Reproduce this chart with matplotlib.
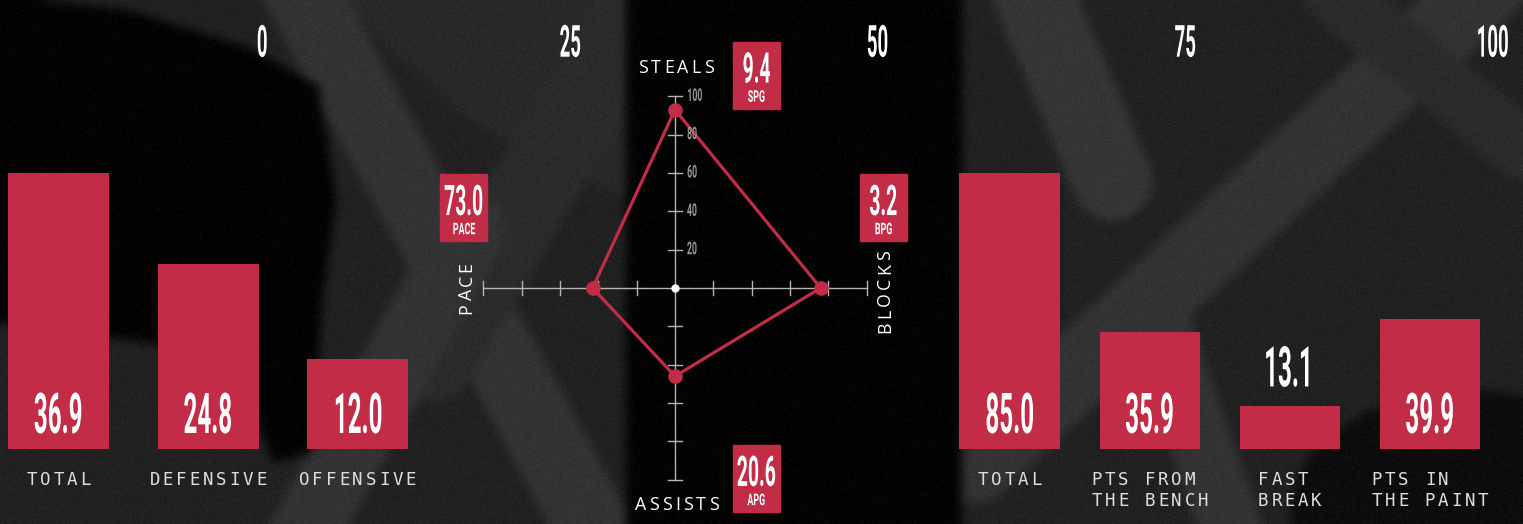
import numpy as np
import matplotlib
matplotlib.use("Agg")
import matplotlib.pyplot as plt
from matplotlib import transforms
from matplotlib.patches import Rectangle
from matplotlib.path import Path
from matplotlib.patheffects import AbstractPathEffect
from matplotlib.font_manager import FontProperties
from matplotlib.textpath import TextToPath

# ---------------------------------------------------------------- data
rebound_labels = ["TOTAL", "DEFENSIVE", "OFFENSIVE"]
rebound_values = [36.9, 24.8, 12.0]

scoring_labels = ["TOTAL", "PTS FROM\nTHE BENCH", "FAST\nBREAK", "PTS IN\nTHE PAINT"]
scoring_values = [85.0, 35.9, 13.1, 39.9]

radar_axes = ["STEALS", "BLOCKS", "ASSISTS", "PACE"]
radar_scores = [93, 76, 46, 43]          # 0-100 rating plotted on the radar
radar_stats = ["9.4", "3.2", "20.6", "73.0"]
radar_units = ["SPG", "BPG", "APG", "PACE"]
radar_ticks = [20, 40, 60, 80, 100]

scale_ticks = [0, 25, 50, 75, 100]

# ---------------------------------------------------------------- style
W, H, DPI = 1523, 524, 100
RED = "#C22C47"
AXIS_GREY = "#b4b4b4"
LABEL_GREY = "#dedede"

NUM = FontProperties(family=["Roboto", "DejaVu Sans"], weight="bold")
MONO = FontProperties(family=["DejaVu Sans Mono"], size=12.6)
SANS = FontProperties(family=["Open Sans", "DejaVu Sans"], size=12.8)

fig = plt.figure(figsize=(W / DPI, H / DPI), dpi=DPI)
fig.patch.set_facecolor("#111111")


def fx(px):
    return px / W


def fy(py):
    return 1 - py / H


class Condense(AbstractPathEffect):
    """Squeeze glyph outlines horizontally to get a compressed display face."""

    def __init__(self, sx, anchor="center"):
        super().__init__()
        self.sx = sx
        self.anchor = anchor

    def draw_path(self, renderer, gc, tpath, affine, rgbFace=None):
        verts = tpath.vertices
        if tpath.codes is not None:
            verts = verts[tpath.codes != Path.CLOSEPOLY]
        if len(verts) == 0:
            return
        v = affine.transform(verts)
        lo, hi = v[:, 0].min(), v[:, 0].max()
        x0 = {"left": lo, "right": hi}.get(self.anchor, 0.5 * (lo + hi))
        squeeze = transforms.Affine2D().translate(-x0, 0).scale(self.sx, 1).translate(x0, 0)
        renderer.draw_path(gc, tpath, affine + squeeze, rgbFace)


_ttp = TextToPath()


def ink_width_px(s, fp):
    w, _, _ = _ttp.get_text_width_height_descent(s, fp, ismath=False)
    return w * DPI / 72


def cond_text(ax, x, y, s, size, sx, transform=None, ha="center", va="baseline",
              color="white", anchor="center", zorder=6, keep_inside=False):
    transform = transform if transform is not None else ax.transData
    if keep_inside:
        # anchor on the right edge so the unsqueezed layout box stays to the left
        fp = NUM.copy()
        fp.set_size(size)
        half = ink_width_px(s, fp) * sx / 2
        transform = transforms.offset_copy(transform, fig=fig, x=half, units="dots")
        ha, anchor = "right", "right"
    t = ax.text(x, y, s, fontproperties=NUM, fontsize=size, color=color, ha=ha, va=va,
                transform=transform, zorder=zorder, clip_on=False)
    t.set_path_effects([Condense(sx, anchor)])
    return t


def tracked(ax, x, y, s, fp, transform, gap=0.0, pitch=None, rotation=0,
            color="white", ha="center", shift=0.0):
    """Letter-spaced text: one glyph per Text, laid out along the writing direction."""
    if pitch is not None:
        widths = [pitch] * len(s)
        gap = 0.0
    else:
        widths = [ink_width_px(c if c != " " else "n", fp) for c in s]
    total = sum(widths) + gap * (len(s) - 1)
    pos = (-total / 2 if ha == "center" else 0.0) + shift
    for c, w in zip(s, widths):
        if c != " ":
            mid = pos + w / 2
            dx, dy = (mid, 0) if rotation == 0 else (0, mid)
            tr = transforms.offset_copy(transform, fig=fig, x=dx, y=dy, units="dots")
            ax.text(x, y, c, fontproperties=fp, transform=tr, color=color,
                    ha="center", va="baseline", rotation=rotation,
                    rotation_mode="anchor", zorder=6, clip_on=False)
        pos += w + gap


# ---------------------------------------------------------------- textured backdrop
yy, xx = np.mgrid[0:H, 0:W].astype(float)
grid_pts = np.column_stack([xx.ravel(), yy.ravel()])


def stroke(p0, p1, width):
    (x0, y0), (x1, y1) = p0, p1
    dx, dy = x1 - x0, y1 - y0
    t = np.clip(((xx - x0) * dx + (yy - y0) * dy) / (dx * dx + dy * dy), 0, 1)
    return np.hypot(xx - (x0 + t * dx), yy - (y0 + t * dy)) < width / 2


def blob(cx, cy, rx, ry):
    return ((xx - cx) / rx) ** 2 + ((yy - cy) / ry) ** 2 < 1


def region(poly):
    return Path(poly).contains_points(grid_pts).reshape(H, W)


def box_blur(a, r):
    k = 2 * r + 1
    for axis in (0, 1):
        pad = [(0, 0), (0, 0)]
        pad[axis] = (r + 1, r)
        c = np.cumsum(np.pad(a, pad, mode="edge"), axis=axis)
        a = (np.take(c, range(k, c.shape[axis]), axis=axis)
             - np.take(c, range(0, c.shape[axis] - k), axis=axis)) / k
    return a


bg = np.full((H, W), 0.13)
bg[region([(330, -5), (630, -5), (630, 200), (470, 120)])] = 0.16
for p0, p1, wd, lvl in [
    ((300, -10), (600, 540), 75, 0.20),
    ((650, -10), (430, 360), 85, 0.17),
    ((470, 230), (300, 540), 70, 0.20),
    ((1031, -10), (1112, 180), 80, 0.21),
    ((1150, 300), (1235, 540), 62, 0.20),
    ((1488, -15), (975, 465), 75, 0.20),
    ((1330, -10), (1523, 150), 60, 0.17),
]:
    bg[stroke(p0, p1, wd)] = lvl
bg[blob(1470, 510, 180, 120)] = 0.05
black = (region([(-5, -5), (130, 10), (250, 48), (318, 85), (336, 200), (322, 300),
                 (312, 452), (272, 462), (240, 372), (150, 342), (-5, 322)])
         | ((xx > 625) & (xx < 962)))
bg[black] = 0.012
bg = box_blur(box_blur(bg, 5), 5)
rng = np.random.default_rng(11)
bg = np.clip(bg + rng.normal(0, 0.012, bg.shape), 0, 1)

bg_ax = fig.add_axes([0, 0, 1, 1])
bg_ax.imshow(bg, cmap="gray", vmin=0, vmax=1, extent=(0, W, H, 0),
             aspect="auto", interpolation="bilinear")
bg_ax.axis("off")

# ---------------------------------------------------------------- bar panels
BAR_BASE, BAR_FULL = 449, 276   # baseline row and height of the tallest bar (px)


def bar_panel(values, labels, left_px, right_px, width_px):
    n = len(values)
    step = (right_px - left_px - width_px) / (n - 1)
    w = width_px / step
    ax = fig.add_axes([fx(left_px), fy(BAR_BASE), (right_px - left_px) / W, BAR_FULL / H])
    ax.set_xlim(-w / 2, n - 1 + w / 2)
    ax.set_ylim(0, max(values))
    ax.axis("off")
    ax.bar(range(n), values, width=w, color=RED, zorder=3)

    vmax = max(values)
    for i, v in enumerate(values):
        txt = f"{v:.1f}"
        if v / vmax * BAR_FULL > 70:
            tr = transforms.offset_copy(ax.transData, fig=fig, y=16, units="dots")
            cond_text(ax, i, 0, txt, 40.5, 0.43, transform=tr)
        else:
            tr = transforms.offset_copy(ax.transData, fig=fig, y=20, units="dots")
            cond_text(ax, i, v, txt, 40.5, 0.43, transform=tr)

    under = transforms.blended_transform_factory(ax.transData, ax.transAxes)
    pitch = 13.3
    for i, lab in enumerate(labels):
        lines = lab.split("\n")
        block = max(len(s) for s in lines) * pitch
        for j, line in enumerate(lines):
            tr = transforms.offset_copy(under, fig=fig, y=-36 - 20.7 * j, units="dots")
            tracked(ax, i, 0, line, MONO, tr, pitch=pitch, color=LABEL_GREY,
                    ha="left", shift=-block / 2)
    return ax


bar_panel(rebound_values, rebound_labels, 8, 408, 101)
bar_panel(scoring_values, scoring_labels, 959.5, 1480.3, 100.5)

# ---------------------------------------------------------------- radar
CX, CY, R = 675, 288, 191.7
rax = fig.add_axes([fx(CX - R), fy(CY + R), 2 * R / W, 2 * R / H])
rax.set_xlim(-100, 100)
rax.set_ylim(-100, 100)
rax.axis("off")

rax.plot([-100, 100], [0, 0], color=AXIS_GREY, lw=1.0, zorder=2, clip_on=False)
rax.plot([0, 0], [-100, 100], color=AXIS_GREY, lw=1.0, zorder=2, clip_on=False)
for t in radar_ticks:
    for s in (1, -1):
        rax.plot([-3.9, 3.9], [s * t, s * t], color=AXIS_GREY, lw=1.0, zorder=2, clip_on=False)
        rax.plot([s * t, s * t], [-3.4, 3.4], color=AXIS_GREY, lw=1.0, zorder=2, clip_on=False)
for t in radar_ticks:
    cond_text(rax, 6.1, t, str(t), 12.5, 0.5, ha="left", va="center",
              color="#9a9a9a", anchor="left")

angles = np.deg2rad([90, 0, -90, 180])
scores = np.array(radar_scores, dtype=float)
px = scores * np.cos(angles)
py = scores * np.sin(angles)
rax.plot(np.append(px, px[0]), np.append(py, py[0]), color=RED, lw=2.3,
         zorder=4, clip_on=False, solid_joinstyle="miter")
rax.plot(px, py, "o", color=RED, ms=9.5, zorder=5, clip_on=False)
rax.plot([0], [0], "o", color="white", ms=5, zorder=5, clip_on=False)

# stat boxes next to each spoke
box_w, box_h = 24.5, 35.1
box_centres = [(42.5, 111.0), (108.8, 41.9), (42.5, -99.4), (-110.1, 41.9)]
for (bx, by), stat, unit in zip(box_centres, radar_stats, radar_units):
    rax.add_patch(Rectangle((bx - box_w / 2, by - box_h / 2), box_w, box_h,
                            color=RED, zorder=5, clip_on=False))
    top = by + box_h / 2
    cond_text(rax, bx, top - 21.4, stat, 30.4, 0.46, zorder=7)
    cond_text(rax, bx, top - 31.4, unit, 11.6, 0.55, zorder=7)

# spoke names
tracked(rax, 0.5, 112.0, radar_axes[0], SANS, rax.transData, gap=3.2)
tracked(rax, 112.2, -2.0, radar_axes[1], SANS, rax.transData, gap=3.2, rotation=90)
tracked(rax, 0.9, -115.8, radar_axes[2], SANS, rax.transData, gap=3.2)
tracked(rax, -106.1, 0.0, radar_axes[3], SANS, rax.transData, gap=3.2, rotation=90)

# ---------------------------------------------------------------- top scale
sax = fig.add_axes([fx(263.5), fy(56.7), (1494 - 263.5) / W, 0.001])
sax.set_xlim(0, 100)
sax.axis("off")
stop = transforms.blended_transform_factory(sax.transData, sax.transAxes)
for v in scale_ticks:
    cond_text(sax, v, 0, str(v), 31.9, 0.42, transform=stop, keep_inside=True)

fig.savefig("out.png", dpi=DPI, facecolor=fig.get_facecolor())
